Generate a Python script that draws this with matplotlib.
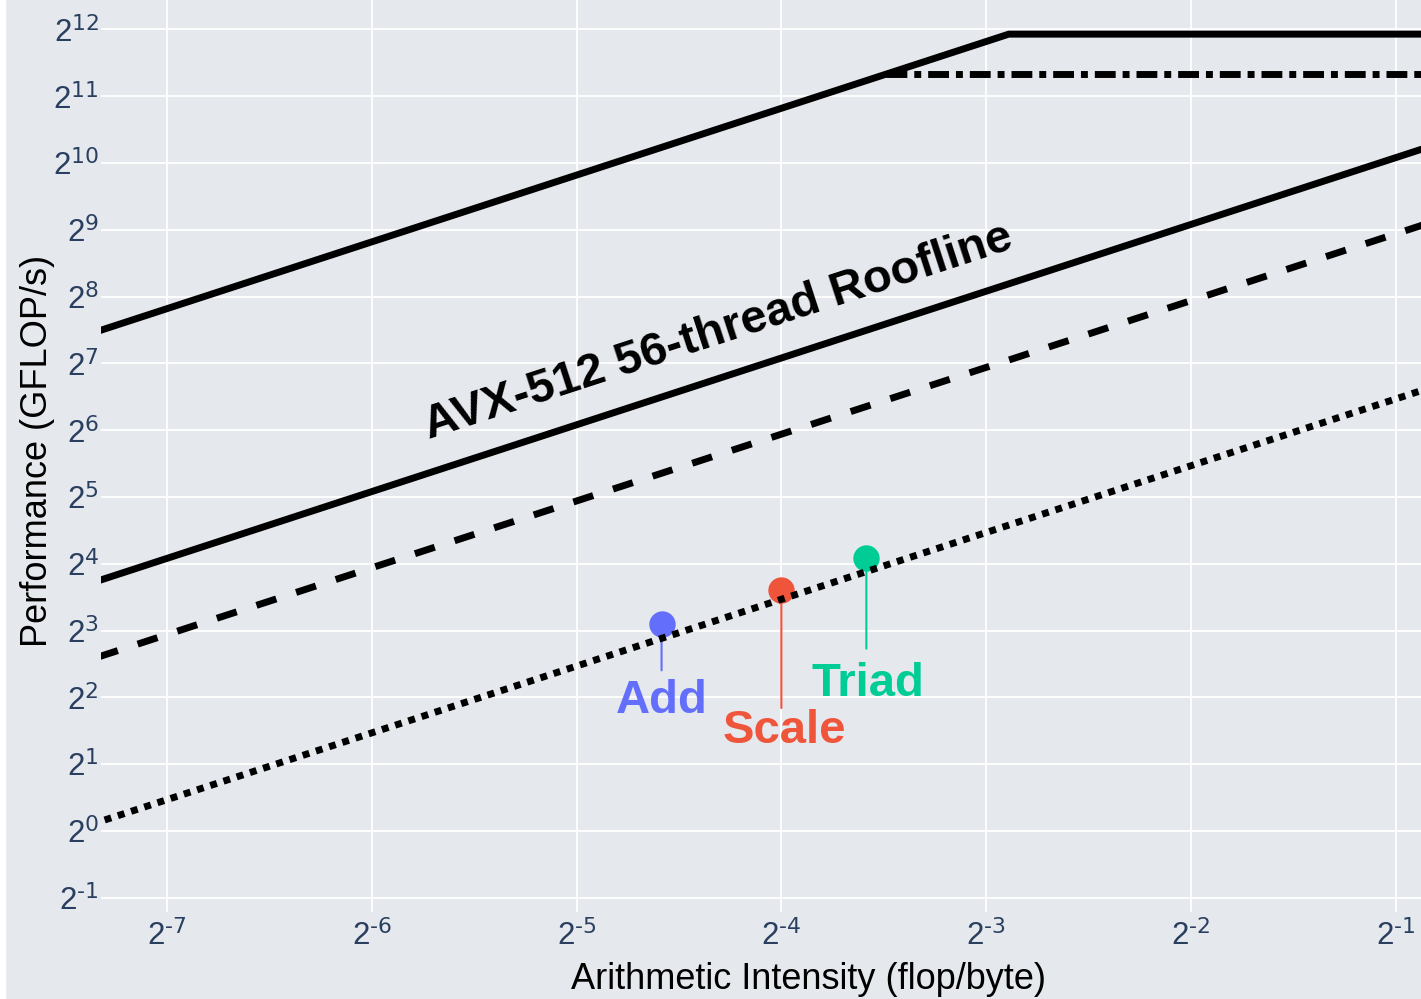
import numpy as np
import matplotlib.pyplot as plt
from matplotlib.ticker import LogLocator, FuncFormatter, NullLocator
from matplotlib.patches import Rectangle

# bandwidth ceilings (GB/s) and compute ceilings (GFLOP/s)
bw_l1 = 28900
bw_l2 = 2165
bw_l3 = 982
bw_dram = 177
peak_fma = 3900
peak_nofma = 2575

# STREAM kernels: arithmetic intensity and measured performance
kernels = ['Add', 'Scale', 'Triad']
kernel_ai = [1 / 24, 1 / 16, 1 / 12]
kernel_perf = [8.53, 12.18, 17.04]
kernel_colors = ['#636EFA', '#EF553B', '#00CC96']

# where the roof lines start and stop (flop/byte)
ai_span = [2 ** -8, 1.0]

bg = '#E5E9EE'
plt.rcParams['font.family'] = ['Liberation Sans', 'DejaVu Sans']
plt.rcParams['mathtext.default'] = 'regular'


def roof(bw, peak):
    x = [ai_span[0]]
    ridge = peak / bw
    if ai_span[0] < ridge < ai_span[1]:
        x.append(ridge)
    x.append(ai_span[1])
    x = np.array(x)
    return x, np.minimum(bw * x, peak)


def pow2_label(v, pos):
    n = int(round(np.log2(v)))
    return f'$2^{{\\text{{{n}}}}}$'


fig = plt.figure(figsize=(14.21, 9.99), dpi=100, facecolor=bg)
fig.add_artist(Rectangle((0, 0), 5 / 1421, 1, transform=fig.transFigure,
                         color='white', zorder=-1))

ax = fig.add_axes([101 / 1421, 87 / 999, 1415 / 1421, 922 / 999])
ax.set_facecolor(bg)
ax.set_xscale('log', base=2)
ax.set_yscale('log', base=2)
ax.set_xlim(2 ** -7.322, 2 ** -0.413)
ax.set_ylim(2 ** -1.214, 2 ** 12.59)
for s in ax.spines.values():
    s.set_visible(False)

ax.grid(True, color='white', lw=1.3)
ax.set_axisbelow(True)
for axis in (ax.xaxis, ax.yaxis):
    axis.set_major_locator(LogLocator(base=2, numticks=40))
    axis.set_minor_locator(NullLocator())
    axis.set_major_formatter(FuncFormatter(pow2_label))
ax.tick_params(length=0, labelsize=22.5, labelcolor='#2a3f5f')
ax.tick_params(axis='x', pad=6)
ax.tick_params(axis='y', pad=1.5)

# roofs
lw = 5.0
line_kw = dict(color='black', lw=lw, solid_capstyle='butt', zorder=3)
ax.plot(*roof(bw_l1, peak_fma), **line_kw)
ax.plot(*roof(bw_l2, peak_fma), **line_kw)
ax.plot(*roof(bw_l3, peak_fma), ls=(3, (3, 3)), **line_kw)
ax.plot(*roof(bw_dram, peak_fma), ls=(0, (1, 1)), **line_kw)
ax.plot([peak_nofma / bw_l1, ai_span[1]], [peak_nofma, peak_nofma],
        ls=(0, (3, 1, 1, 1)), **line_kw)

# kernel points with labels hanging below
stem_px = [46, 118, 91]
label_px = [89, 153, 138]
label_dx = [0, 3, 2]
for name, x, y, c, st, lb, dx in zip(kernels, kernel_ai, kernel_perf, kernel_colors,
                                     stem_px, label_px, label_dx):
    ax.plot(x, y, 'o', ms=19, mew=0, color=c, zorder=2)
    ax.annotate('', xy=(x, y), xytext=(0, -st), textcoords='offset pixels',
                arrowprops=dict(arrowstyle='-', color=c, lw=1.5,
                                shrinkA=0, shrinkB=0), zorder=2.5)
    ax.annotate(name, xy=(x, y), xytext=(dx, -lb), textcoords='offset pixels',
                ha='center', va='baseline', color=c, fontsize=34,
                fontweight='bold', zorder=4)

# label parallel to the bandwidth lines
p1 = ax.transData.transform((2 ** -6, bw_l2 * 2 ** -6))
p2 = ax.transData.transform((2 ** -2, bw_l2 * 2 ** -2))
angle = np.degrees(np.arctan2(p2[1] - p1[1], p2[0] - p1[0]))
ax.text(2 ** -4.31, 2 ** 7.47, 'AVX-512 56-thread Roofline', rotation=angle,
        rotation_mode='anchor', ha='center', va='center', fontsize=34,
        fontweight='bold', color='black', zorder=4)

ax.set_xlabel('Arithmetic Intensity (flop/byte)', fontsize=26, color='black')
ax.xaxis.set_label_coords(0.5, -0.054)
ax.set_ylabel('Performance (GFLOP/s)', fontsize=26, color='black')
ax.yaxis.set_label_coords(-0.0325, 0.5)

fig.savefig('out.png', dpi=100, facecolor=bg)
